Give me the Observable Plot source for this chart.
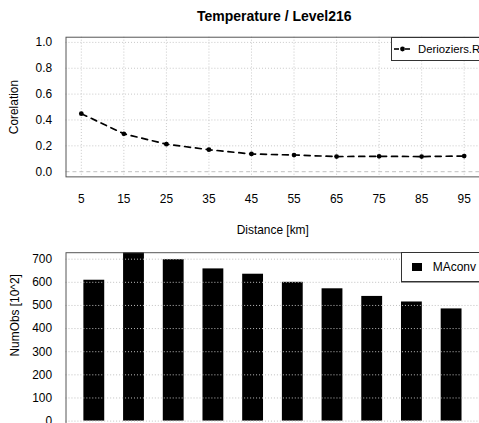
<!DOCTYPE html>
<html>
<head>
<meta charset="utf-8">
<script src="https://cdn.jsdelivr.net/npm/d3@7"></script>
<script src="https://cdn.jsdelivr.net/npm/@observablehq/plot@0.6"></script>
<style>
  html, body { margin: 0; padding: 0; background: #fff; overflow: hidden; }
  #wrap { position: relative; width: 479px; height: 423px; overflow: hidden; font-family: "Liberation Sans", Arial, sans-serif; }
  #wrap svg { position: absolute; left: 0; overflow: hidden; }
  .title { position: absolute; left: 66px; width: 416.6px; top: 8px; line-height: 16px; text-align: center; font-weight: bold; font-size: 14px; color: #000; }
  .legend { position: absolute; background: #fff; border: 1px solid #333; box-sizing: border-box; font-size: 12px; color: #000; }
</style>
</head>
<body>
<div id="wrap"></div>
<script>
// ---- data ----
const distances = [5, 15, 25, 35, 45, 55, 65, 75, 85, 95];
const correlation = [0.449, 0.293, 0.213, 0.170, 0.137, 0.129, 0.117, 0.119, 0.117, 0.121];
const numObs = [609, 760, 698, 658, 635, 600, 572, 539, 515, 485];
const corTicks = [0.0, 0.2, 0.4, 0.6, 0.8, 1.0];
const obsTicks = [0, 100, 200, 300, 400, 500, 600, 700];
const titleText = "Temperature / Level216";
const seriesLine = "Derioziers.R";
const seriesBar = "MAconv";
const obsLabel = "NumObs [10^2]";

const corData = distances.map((d, i) => ({d, c: correlation[i]}));
const obsData = distances.map((d, i) => ({d: String(d), n: numObs[i]}));

const wrap = document.getElementById("wrap");
const W = 482.6;
const font = {fontFamily: "Liberation Sans, Arial, sans-serif", fontSize: "12px", color: "#000", background: "transparent"};

// title
const t = document.createElement("div");
t.className = "title";
t.textContent = titleText;
wrap.appendChild(t);

// ---- top panel ----
const top1 = Plot.plot({
  width: W, height: 245,
  marginLeft: 66, marginRight: 0, marginTop: 37, marginBottom: 245 - 177.7,
  style: font,
  x: {domain: [1.4, 98.6]},
  y: {domain: [-0.04, 1.04]},
  marks: [
    Plot.ruleY(corTicks.filter(v => v > 0), {stroke: "#c8c8c8", strokeDasharray: "1,2"}),
    Plot.ruleX(distances, {stroke: "#c8c8c8", strokeDasharray: "1,2"}),
    Plot.ruleY([0], {stroke: "#c0c0c0", strokeDasharray: "4,3"}),
    Plot.line(corData, {x: "d", y: "c", stroke: "#000", strokeWidth: 1.7, strokeDasharray: "6,5"}),
    Plot.dot(corData, {x: "d", y: "c", r: 2.4, fill: "#000", stroke: "none"}),
    Plot.axisX({ticks: distances, tickSize: 0, tickPadding: 18, tickFormat: d => String(d), label: "Distance [km]", labelAnchor: "center", labelOffset: 58, labelArrow: false}),
    Plot.axisY({ticks: corTicks, tickSize: 0, tickPadding: 14, tickFormat: d3.format(".1f"), label: "Corelation", labelAnchor: "center", labelOffset: 57, labelArrow: false}),
    Plot.frame({stroke: "#555"})
  ]
});
top1.style.top = "0px";
wrap.appendChild(top1);

// ---- bottom panel ----
const bot = Plot.plot({
  width: W, height: 200,
  marginLeft: 66, marginRight: 0, marginTop: 12.3, marginBottom: 200 - 188.5,
  style: font,
  x: {type: "band", domain: distances.map(String), paddingInner: 0.483, paddingOuter: 0.365, axis: null},
  y: {domain: [-28, 728]},
  marks: [
    Plot.barY(obsData, {x: "d", y: "n", fill: "#000", clip: true}),
    Plot.ruleY(obsTicks, {stroke: "#c0c0c0", strokeDasharray: "1,2"}),
    Plot.axisY({ticks: obsTicks, tickSize: 0, tickPadding: 14, label: null}),
    Plot.text([obsLabel], {frameAnchor: "left", dx: -51, dy: -25, rotate: -90, text: d => d, textAnchor: "middle", lineAnchor: "middle", fontSize: 12, fill: "#000"}),
    Plot.frame({stroke: "#555"})
  ]
});
bot.style.top = "240px";
wrap.appendChild(bot);

// ---- legends ----
const lg1 = document.createElement("div");
lg1.className = "legend";
Object.assign(lg1.style, {left: "391px", top: "37px", width: "100px", height: "24px"});
lg1.innerHTML = `<svg width="30" height="22" style="position:absolute;left:0;top:0;overflow:visible">
  <line x1="2" x2="7" y1="11" y2="11" stroke="#000" stroke-width="1.6"/>
  <line x1="13" x2="18" y1="11" y2="11" stroke="#000" stroke-width="1.6"/>
  <circle cx="10.5" cy="11" r="2.4" fill="#000"/></svg>
  <span style="position:absolute;left:26px;top:4px;line-height:14px;font-size:11.3px;white-space:nowrap">${seriesLine}</span>`;
wrap.appendChild(lg1);

const lg2 = document.createElement("div");
lg2.className = "legend";
Object.assign(lg2.style, {left: "400.7px", top: "252.3px", width: "100px", height: "30px", boxShadow: "0 1px 0 #999"});
lg2.innerHTML = `<div style="position:absolute;left:10px;top:10px;width:10px;height:8px;background:#000"></div>
  <span style="position:absolute;left:31px;top:7px;line-height:14px;white-space:nowrap">${seriesBar}</span>`;
wrap.appendChild(lg2);
</script>
</body>
</html>
